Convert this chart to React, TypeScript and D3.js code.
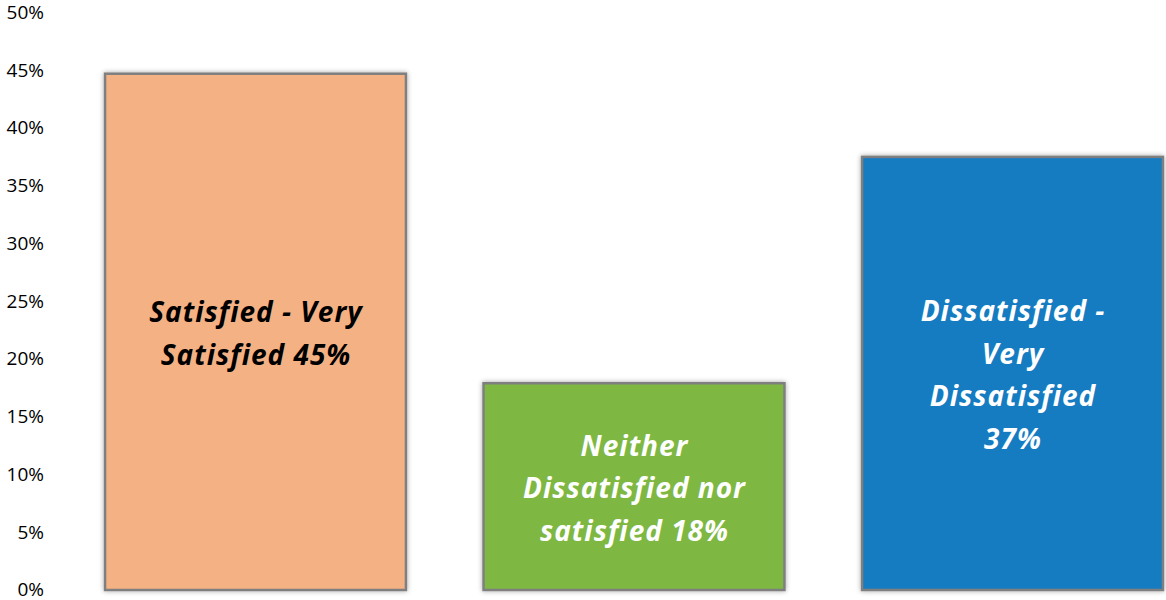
import React from "react";
import * as d3 from "d3";

const categories = ["Satisfied - Very Satisfied", "Neither Dissatisfied nor satisfied", "Dissatisfied - Very Dissatisfied"];
const values = [44.7, 17.9, 37.5];
const labelLines = [
  ["Satisfied - Very", "Satisfied 45%"],
  ["Neither", "Dissatisfied nor", "satisfied 18%"],
  ["Dissatisfied -", "Very", "Dissatisfied", "37%"],
];
const colors = ["#F4B183", "#7EB843", "#187CC1"];
const labelColors = ["#000000", "#ffffff", "#ffffff"];
const yTicks = [0, 5, 10, 15, 20, 25, 30, 35, 40, 45, 50];

export default function App() {
  const W = 1166, H = 600;
  const y = d3.scaleLinear().domain([0, 50]).range([590, 12.5]);
  const x = d3.scaleBand<string>().domain(categories).range([66.25, 1201.75]).paddingInner(0.205).paddingOuter(0.1025);
  const lh = 42.5;
  return (
    <svg width={W} height={H} style={{ position: "absolute", left: 0, top: 0, background: "#fff" }}>
      <defs>
        <filter id="sh" x="-10%" y="-10%" width="120%" height="120%">
          <feDropShadow dx="0" dy="0" stdDeviation="2.5" floodColor="#000" floodOpacity="0.35" />
        </filter>
      </defs>
      {yTicks.map((t) => (
        <text key={t} x={44} y={y(t)} dy="0.33em" textAnchor="end" fontFamily="'Open Sans', sans-serif" fontSize={19} fill="#000">
          {t}%
        </text>
      ))}
      {categories.map((c, i) => {
        const x0 = x(c)!;
        const bw = x.bandwidth();
        const top = y(values[i]);
        const cy = (top + y(0)) / 2;
        const lines = labelLines[i];
        const start = cy - ((lines.length - 1) * lh) / 2;
        return (
          <g key={c}>
            <rect x={x0} y={top} width={bw} height={y(0) - top} fill={colors[i]} stroke="#7f7f7f" strokeWidth={2.5} filter="url(#sh)" />
            {lines.map((l, j) => (
              <text key={j} x={x0 + bw / 2 + 0.5} y={start + j * lh} dy="0.42em" textAnchor="middle" fontFamily="'Open Sans', sans-serif" fontStyle="italic" fontWeight="bold" fontSize={28} letterSpacing={1} fill={labelColors[i]}>
                {l}
              </text>
            ))}
          </g>
        );
      })}
    </svg>
  );
}
